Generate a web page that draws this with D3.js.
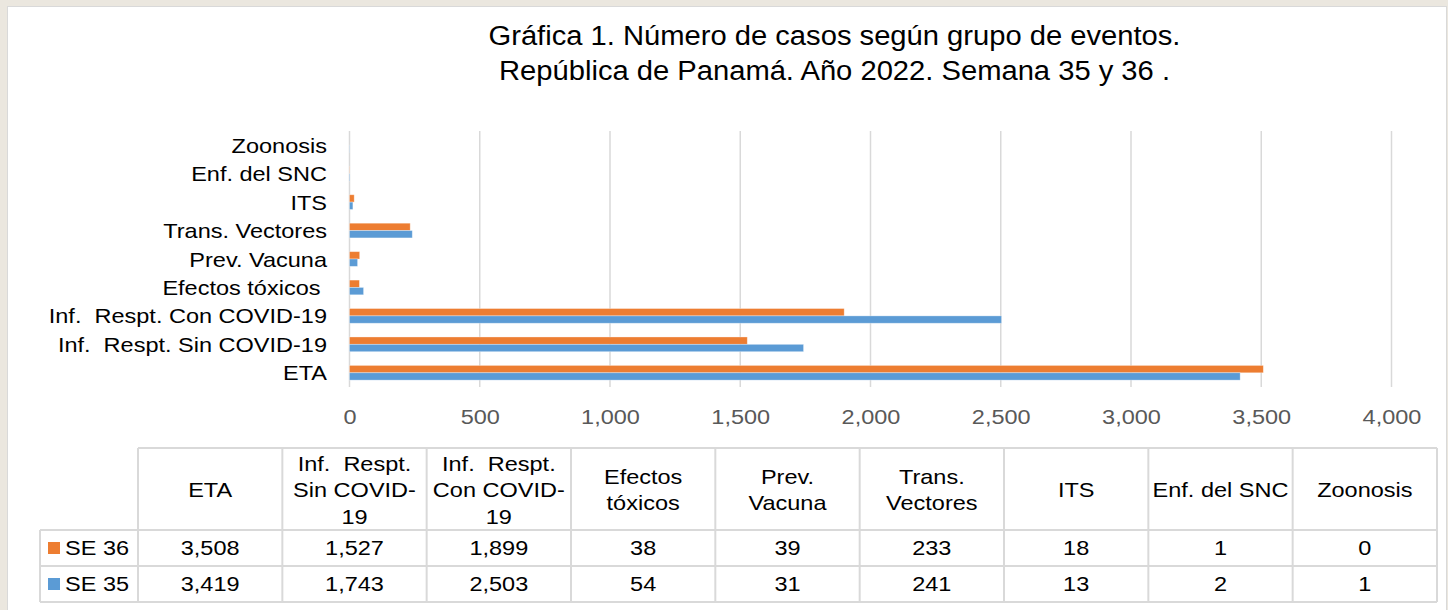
<!DOCTYPE html>
<html>
<head>
<meta charset="utf-8">
<script src="https://cdn.jsdelivr.net/npm/d3@7"></script>
<style>
  body { margin: 0; background: #ebe7df; }
  text { font-family: "Liberation Sans", Arial, sans-serif; white-space: pre; }
</style>
</head>
<body>
<div id="chart"></div>
<script>
// data
var categories = ["ETA", "Inf.  Respt. Sin COVID-19", "Inf.  Respt. Con COVID-19", "Efectos tóxicos ",
  "Prev. Vacuna", "Trans. Vectores", "ITS", "Enf. del SNC", "Zoonosis"];
var headerLines = [["ETA"], ["Inf.  Respt.", "Sin COVID-", "19"], ["Inf.  Respt.", "Con COVID-", "19"],
  ["Efectos", "tóxicos"], ["Prev.", "Vacuna"], ["Trans.", "Vectores"], ["ITS"], ["Enf. del SNC"], ["Zoonosis"]];
var seriesNames = ["SE 36", "SE 35"];
var se36 = [3508, 1527, 1899, 38, 39, 233, 18, 1, 0];
var se35 = [3419, 1743, 2503, 54, 31, 241, 13, 2, 1];
var xTicks = [0, 500, 1000, 1500, 2000, 2500, 3000, 3500, 4000];
var colors = {"SE 36": "#ed7d31", "SE 35": "#5b9bd5"};

var W = 1448, H = 610;
var sx = 1.12; // the reference text is a bit wide
var fmt = d3.format(",");

var svg = d3.select("#chart").append("svg")
  .attr("width", W)
  .attr("height", H);

// white panel
svg.append("rect")
  .attr("x", 7.5).attr("y", 6.5)
  .attr("width", 1439).attr("height", 610)
  .attr("fill", "#fff")
  .attr("stroke", "#d9d9d9");

function wide(sel, x, y, s) {
  return sel.attr("transform", "translate(" + x + "," + y + ") scale(" + (s || sx) + ",1)");
}

// title
["Gráfica 1. Número de casos según grupo de eventos.", "República de Panamá. Año 2022. Semana 35 y 36 ."]
  .forEach(function(t, i) {
    wide(svg.append("text"), 834.5, 45 + i * 35, 1.08)
      .attr("text-anchor", "middle")
      .attr("font-size", 27)
      .attr("fill", "#000")
      .text(t);
  });

var plotTop = 131, plotBottom = 387;
var x = d3.scaleLinear().domain([0, 4000]).range([349.5, 1391.5]);
var y = d3.scaleBand().domain(categories.slice().reverse())
  .range([plotTop, plotBottom]).paddingInner(0.483).paddingOuter(0.2415);
var ySub = d3.scaleBand().domain(seriesNames).range([0, y.bandwidth()]);

// grid lines
svg.append("g").selectAll("line")
  .data(xTicks)
  .enter().append("line")
  .attr("x1", function(d) { return x(d); })
  .attr("x2", function(d) { return x(d); })
  .attr("y1", plotTop).attr("y2", plotBottom)
  .attr("stroke", "#d9d9d9")
  .attr("stroke-width", 1.5);

// tick labels
var ax = svg.append("g")
  .attr("transform", "translate(0," + plotBottom + ")")
  .call(d3.axisBottom(x).tickValues(xTicks).tickFormat(fmt).tickSize(0).tickPadding(0));
ax.select(".domain").remove();
ax.attr("font-family", null).attr("font-size", null);
ax.selectAll("text")
  .attr("y", null).attr("dy", null)
  .attr("font-size", 21)
  .attr("fill", "#595959")
  .attr("transform", "translate(0,37) scale(" + sx + ",1)");

// category labels
svg.append("g").selectAll("text")
  .data(categories)
  .enter().append("text")
  .attr("transform", function(d) {
    return "translate(327," + (y(d) + y.bandwidth() / 2 + 7.5) + ") scale(" + sx + ",1)";
  })
  .attr("text-anchor", "end")
  .attr("font-size", 21)
  .attr("fill", "#000")
  .text(function(d) { return d; });

// bars
var rows = categories.map(function(c, i) {
  return {cat: c, vals: [{s: "SE 36", v: se36[i]}, {s: "SE 35", v: se35[i]}]};
});
svg.append("g").selectAll("g")
  .data(rows)
  .enter().append("g")
  .attr("transform", function(d) { return "translate(0," + y(d.cat) + ")"; })
  .selectAll("rect")
  .data(function(d) { return d.vals; })
  .enter().append("rect")
  .attr("x", x(0))
  .attr("y", function(d) { return ySub(d.s); })
  .attr("width", function(d) { return x(d.v) - x(0); })
  .attr("height", ySub.bandwidth())
  .attr("fill", function(d) { return colors[d.s]; })
  .attr("stroke", "#fff")
  .attr("stroke-opacity", 0.4)
  .attr("stroke-width", 0.8);

// data table
var tLeft = 138, tRight = 1437, legLeft = 40;
var colW = (tRight - tLeft) / categories.length;
var hTop = 448, hBot = 530, rowH = 36;
var grid = svg.append("g").attr("stroke", "#d9d9d9").attr("stroke-width", 2);
grid.append("line").attr("x1", tLeft).attr("x2", tRight).attr("y1", hTop).attr("y2", hTop);
[0, 1, 2].forEach(function(r) {
  var yy = hBot + r * rowH;
  grid.append("line").attr("x1", legLeft).attr("x2", tRight).attr("y1", yy).attr("y2", yy);
});
grid.append("line").attr("x1", legLeft).attr("x2", legLeft).attr("y1", hBot).attr("y2", hBot + 2 * rowH);
d3.range(categories.length + 1).forEach(function(i) {
  var xx = tLeft + i * colW;
  grid.append("line").attr("x1", xx).attr("x2", xx).attr("y1", hTop).attr("y2", hBot + 2 * rowH);
});

var tbl = svg.append("g").attr("font-size", 21).attr("fill", "#000");
headerLines.forEach(function(lines, i) {
  var cx = tLeft + (i + 0.5) * colW;
  lines.forEach(function(t, j) {
    wide(tbl.append("text"), cx, 497 + (j - (lines.length - 1) / 2) * 26.5)
      .attr("text-anchor", "middle")
      .text(t);
  });
});
[se36, se35].forEach(function(vals, r) {
  var cy = hBot + r * rowH + rowH / 2 + 7;
  vals.forEach(function(v, i) {
    wide(tbl.append("text"), tLeft + (i + 0.5) * colW, cy)
      .attr("text-anchor", "middle")
      .text(fmt(v));
  });
  var s = seriesNames[r];
  svg.append("rect")
    .attr("x", 48).attr("y", hBot + r * rowH + 12)
    .attr("width", 12).attr("height", 12)
    .attr("fill", colors[s]);
  wide(tbl.append("text"), 65, cy).text(s);
});
</script>
</body>
</html>
